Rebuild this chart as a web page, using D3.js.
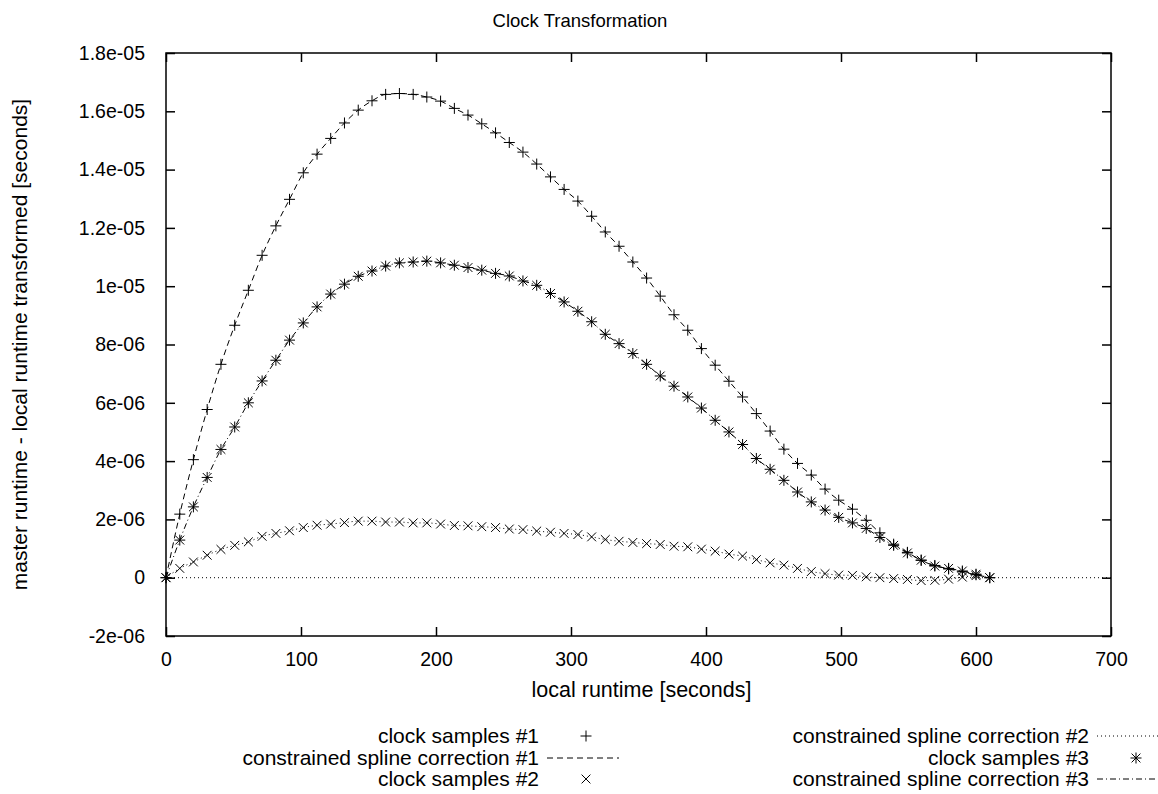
<!DOCTYPE html>
<html>
<head>
<meta charset="utf-8">
<script src="https://cdn.jsdelivr.net/npm/d3@7"></script>
<style>
  html, body { margin: 0; padding: 0; background: #fff; }
  svg text { font-family: "Liberation Sans", Arial, Helvetica, sans-serif; fill: #000; }
</style>
</head>
<body>
<svg id="chart" width="1158" height="794"></svg>
<script>
// ---- data (values of y in units of 1e-6 seconds) ----
const sampleTimes = [0, 10.2, 20.3, 30.5, 40.7, 50.9, 61.0, 71.2, 81.4, 91.5, 101.7, 111.9, 122.0, 132.2, 142.4, 152.6, 162.7, 172.9, 183.1, 193.2, 203.4, 213.6, 223.7, 233.9, 244.1, 254.3, 264.4, 274.6, 284.8, 294.9, 305.1, 315.3, 325.4, 335.6, 345.8, 356.0, 366.1, 376.3, 386.5, 396.6, 406.8, 417.0, 427.1, 437.3, 447.5, 457.7, 467.8, 478.0, 488.2, 498.3, 508.5, 518.7, 528.8, 539.0, 549.2, 559.4, 569.5, 579.7, 589.9, 600.0, 610.2];

const samples1 = [0, 2.18, 4.05, 5.77, 7.32, 8.66, 9.86, 11.06, 12.07, 12.98, 13.89, 14.53, 15.07, 15.6, 16.04, 16.36, 16.58, 16.61, 16.58, 16.49, 16.35, 16.1, 15.87, 15.57, 15.26, 14.93, 14.6, 14.19, 13.75, 13.32, 12.92, 12.4, 11.86, 11.37, 10.83, 10.28, 9.66, 9.02, 8.49, 7.86, 7.29, 6.74, 6.2, 5.63, 5.03, 4.41, 3.92, 3.52, 3.04, 2.66, 2.35, 1.97, 1.54, 1.15, 0.87, 0.6, 0.42, 0.3, 0.2, 0.1, 0];

const samples2 = [0, 0.32, 0.54, 0.77, 0.97, 1.11, 1.23, 1.42, 1.52, 1.61, 1.72, 1.8, 1.84, 1.89, 1.94, 1.94, 1.91, 1.91, 1.88, 1.88, 1.84, 1.79, 1.78, 1.75, 1.72, 1.67, 1.65, 1.6, 1.56, 1.52, 1.48, 1.4, 1.31, 1.25, 1.21, 1.17, 1.14, 1.08, 1.06, 0.98, 0.91, 0.81, 0.74, 0.62, 0.51, 0.43, 0.32, 0.21, 0.14, 0.09, 0.08, 0.03, 0.0, -0.03, -0.06, -0.1, -0.09, -0.05, 0.02, 0.07, 0.0];

const samples3 = [0, 1.29, 2.43, 3.44, 4.4, 5.17, 6.0, 6.75, 7.46, 8.15, 8.74, 9.29, 9.73, 10.07, 10.34, 10.52, 10.69, 10.8, 10.83, 10.86, 10.8, 10.72, 10.64, 10.55, 10.44, 10.35, 10.18, 10.03, 9.75, 9.46, 9.14, 8.78, 8.35, 8.03, 7.69, 7.32, 6.92, 6.57, 6.2, 5.82, 5.4, 5.0, 4.57, 4.09, 3.72, 3.34, 2.94, 2.6, 2.32, 2.07, 1.88, 1.69, 1.38, 1.11, 0.85, 0.6, 0.4, 0.32, 0.23, 0.12, 0.0];

const xTickValues = [0, 100, 200, 300, 400, 500, 600, 700];
const xTickLabels = ["0", "100", "200", "300", "400", "500", "600", "700"];
const yTickValues = [-2, 0, 2, 4, 6, 8, 10, 12, 14, 16, 18];
const yTickLabels = ["-2e-06", "0", "2e-06", "4e-06", "6e-06", "8e-06", "1e-05", "1.2e-05", "1.4e-05", "1.6e-05", "1.8e-05"];

const titleText = "Clock Transformation";
const xLabelText = "local runtime [seconds]";
const yLabelText = "master runtime - local runtime transformed [seconds]";
const legendLabels = ["clock samples #1", "constrained spline correction #1", "clock samples #2",
                      "constrained spline correction #2", "clock samples #3", "constrained spline correction #3"];

// ---- layout ----
const svg = d3.select("#chart");
const L = 166, R = 1111, T = 53, B = 636;
const x = d3.scaleLinear().domain([0, 700]).range([L, R]);
const y = d3.scaleLinear().domain([-2, 18]).range([B, T]);
const FS_TITLE = 18.5, FS_TICK = 19.5, FS_XLAB = 21.5, FS_YLAB = 21, FS_LEG = 21;
const TICK = 9;

// title
svg.append("text").attr("x", 580).attr("y", 27).attr("text-anchor", "middle")
  .attr("font-size", FS_TITLE).text(titleText);

// zero axis (dotted)
svg.append("line").attr("x1", L).attr("x2", R).attr("y1", y(0)).attr("y2", y(0))
  .attr("stroke", "#000").attr("stroke-width", 1).attr("stroke-dasharray", "1,3");

// axes with inward ticks
const gB = svg.append("g").attr("transform", `translate(0,${B})`)
  .call(d3.axisBottom(x).tickValues(xTickValues).tickFormat((d, i) => xTickLabels[i]).tickSizeInner(-TICK).tickSizeOuter(0).tickPadding(TICK + 7));
const gT = svg.append("g").attr("transform", `translate(0,${T})`)
  .call(d3.axisTop(x).tickValues(xTickValues).tickFormat("").tickSizeInner(-TICK).tickSizeOuter(0));
const gL = svg.append("g").attr("transform", `translate(${L},0)`)
  .call(d3.axisLeft(y).tickValues(yTickValues).tickFormat((d, i) => yTickLabels[i]).tickSizeInner(-TICK).tickSizeOuter(0).tickPadding(TICK + 12));
const gR = svg.append("g").attr("transform", `translate(${R},0)`)
  .call(d3.axisRight(y).tickValues(yTickValues).tickFormat("").tickSizeInner(-TICK).tickSizeOuter(0));
[gB, gT, gL, gR].forEach(g => {
  g.select(".domain").remove();
  g.selectAll(".tick line").attr("stroke", "#000").attr("stroke-width", 1.5);
  g.selectAll("text").attr("font-size", FS_TICK).attr("font-family", "Liberation Sans, Arial, sans-serif").attr("fill", "#000");
});

// frame
svg.append("rect").attr("x", L).attr("y", T).attr("width", R - L).attr("height", B - T)
  .attr("fill", "none").attr("stroke", "#000").attr("stroke-width", 1.5);

// axis labels
svg.append("text").attr("x", (L + R) / 2 + 3).attr("y", 697).attr("text-anchor", "middle")
  .attr("font-size", FS_XLAB).text(xLabelText);
svg.append("text").attr("transform", `translate(27,${(T + B) / 2}) rotate(-90)`)
  .attr("text-anchor", "middle").attr("font-size", FS_YLAB).text(yLabelText);

// ---- series ----
const seriesList = [samples1, samples2, samples3];
const dashes = ["6,4", "1,3", "6,3,1,3"];
const markers = ["plus", "cross", "star"];

function drawMarker(g, type, cx, cy, s) {
  const p = d3.path();
  if (type === "plus" || type === "star") {
    p.moveTo(cx - s, cy); p.lineTo(cx + s, cy);
    p.moveTo(cx, cy - s); p.lineTo(cx, cy + s);
  }
  if (type === "cross" || type === "star") {
    const d = s * 0.8;
    p.moveTo(cx - d, cy - d); p.lineTo(cx + d, cy + d);
    p.moveTo(cx - d, cy + d); p.lineTo(cx + d, cy - d);
  }
  g.append("path").attr("d", p.toString()).attr("stroke", "#000").attr("stroke-width", 1).attr("fill", "none");
}

const line = d3.line().x(d => x(d[0])).y(d => y(d[1])).curve(d3.curveMonotoneX);
seriesList.forEach((vals, si) => {
  const pts = vals.map((v, i) => [sampleTimes[i], v]);
  svg.append("path").datum(pts).attr("d", line).attr("fill", "none")
    .attr("stroke", "#000").attr("stroke-width", 1).attr("stroke-dasharray", dashes[si]);
});
seriesList.forEach((vals, si) => {
  const g = svg.append("g");
  vals.forEach((v, i) => drawMarker(g, markers[si], x(sampleTimes[i]), y(v), 5.5));
});

// ---- legend ----
const legendItems = [
  { col: 0, row: 0, kind: "marker", idx: 0 },
  { col: 0, row: 1, kind: "line", idx: 0 },
  { col: 0, row: 2, kind: "marker", idx: 1 },
  { col: 1, row: 0, kind: "line", idx: 1 },
  { col: 1, row: 1, kind: "marker", idx: 2 },
  { col: 1, row: 2, kind: "line", idx: 2 }
];
const colTextRight = [539, 1089];
const rowY = [736, 758, 779];
legendItems.forEach((it, k) => {
  const tx = colTextRight[it.col], ty = rowY[it.row];
  svg.append("text").attr("x", tx).attr("y", ty).attr("dy", "0.35em").attr("text-anchor", "end")
    .attr("font-size", FS_LEG).text(legendLabels[k]);
  if (it.kind === "marker") {
    drawMarker(svg.append("g"), markers[it.idx], tx + 47, ty, 5.5);
  } else {
    svg.append("line").attr("x1", tx + 8).attr("x2", tx + 80).attr("y1", ty).attr("y2", ty)
      .attr("stroke", "#000").attr("stroke-width", 1).attr("stroke-dasharray", dashes[it.idx]);
  }
});
</script>
</body>
</html>
